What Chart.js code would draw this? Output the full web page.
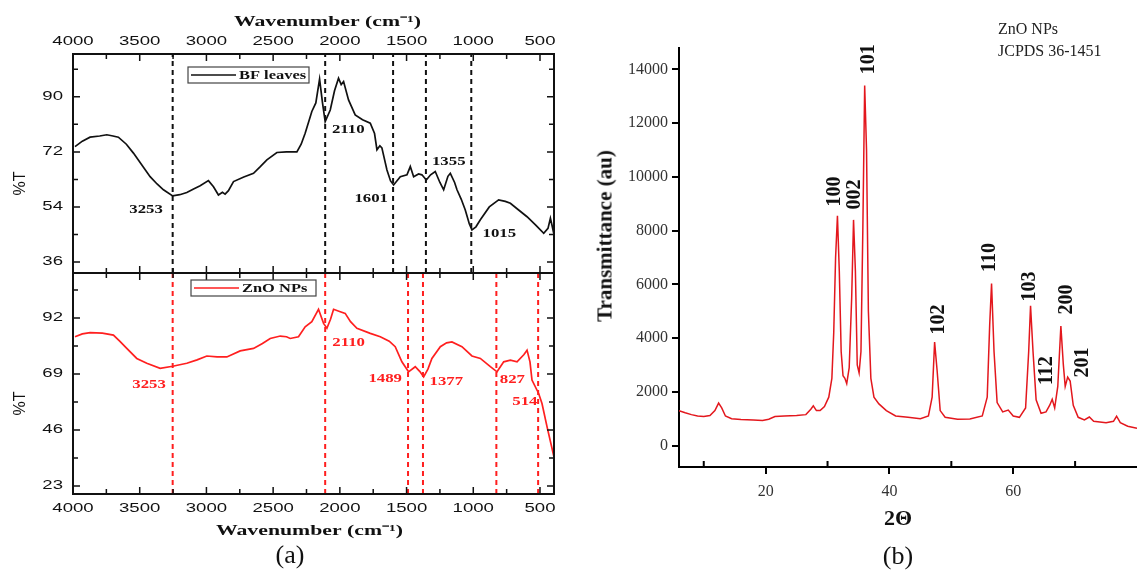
<!DOCTYPE html>
<html>
<head>
<meta charset="utf-8">
<title>FTIR and XRD of ZnO NPs</title>
<script src="https://cdn.jsdelivr.net/npm/chart.js@4.4.1/dist/chart.umd.min.js"></script>
<style>
  html, body { margin: 0; padding: 0; background: #fff; }
  body { width: 1137px; height: 573px; position: relative; overflow: hidden; }
  .box { position: absolute; }
  .cap { position: absolute; font-family: 'Liberation Serif', 'Times New Roman', serif; color: #111; white-space: nowrap; transform: translate(-50%, -50%); }
  .note { position: absolute; font-family: 'Liberation Serif', 'Times New Roman', serif; color: #222; font-size: 16px; white-space: nowrap; }
</style>
</head>
<body>
<div class="box" style="left:0;top:0;width:570px;height:280px"><canvas id="ftir-top"></canvas></div>
<div class="box" style="left:0;top:260px;width:570px;height:313px"><canvas id="ftir-bottom"></canvas></div>
<div class="box" style="left:590px;top:0;width:547px;height:573px"><canvas id="xrd-chart"></canvas></div>

<div class="cap" style="left:290px;top:555px;font-size:26px">(a)</div>
<div class="cap" style="left:898px;top:556px;font-size:26px">(b)</div>
<div class="cap" style="left:898px;top:518px;font-size:22px;font-weight:bold">2Θ</div>
<div class="cap" style="left:605px;top:236px;font-size:21px;font-weight:bold;transform:translate(-50%,-50%) rotate(-90deg)">Transmittance (au)</div>
<div class="note" style="left:998px;top:20px">ZnO NPs</div>
<div class="note" style="left:998px;top:42px">JCPDS 36-1451</div>

<script>
// ---- FTIR data (panel a) ----
const wavenumberBF = [3985, 3930, 3872, 3800, 3747, 3700, 3660, 3600, 3547, 3480, 3422, 3370, 3322, 3253, 3200, 3147, 3100, 3047, 2985, 2947,
  2910, 2880, 2860, 2835, 2797, 2720, 2647, 2600, 2547, 2472, 2400, 2322, 2290, 2260, 2210, 2180, 2152, 2130, 2110, 2072,
  2040, 2010, 1990, 1972, 1935, 1885, 1830, 1772, 1740, 1722, 1700, 1685, 1647, 1620, 1597, 1547, 1497, 1472, 1447, 1410,
  1385, 1352, 1320, 1285, 1250, 1222, 1190, 1172, 1140, 1122, 1090, 1060, 1030, 1010, 980, 947, 880, 810, 760, 722,
  660, 597, 530, 472, 440, 422, 410, 397];
const transBF = [73.7, 75.5, 76.8, 77.2, 77.6, 77.2, 76.8, 74.5, 71.6, 67.5, 63.9, 61.5, 59.6, 57.6, 58.0, 58.7, 59.8, 60.9, 62.6, 60.6,
  57.9, 58.8, 58.2, 59.3, 62.3, 63.8, 65.0, 67.0, 69.4, 71.8, 72.0, 72.0, 74.5, 78.1, 85.2, 88.0, 95.8, 88.0, 81.9, 85.7,
  92.0, 96.1, 94.0, 95.0, 89.0, 84.1, 82.5, 81.4, 78.0, 72.7, 74.0, 73.3, 66.1, 62.5, 61.2, 63.9, 64.5, 67.2, 63.9, 64.8,
  64.5, 62.8, 64.5, 65.6, 62.0, 59.6, 64.0, 65.0, 62.0, 59.6, 56.5, 53.0, 48.5, 46.5, 47.5, 49.8, 54.0, 56.3, 55.8, 55.2,
  53.0, 50.8, 48.0, 45.4, 47.0, 50.3, 48.0, 45.4];

const wavenumberZnO = [3985, 3930, 3872, 3780, 3697, 3650, 3597, 3522, 3447, 3347, 3253, 3147, 3070, 2997, 2920, 2847, 2747, 2647, 2580, 2522,
  2447, 2400, 2372, 2310, 2260, 2210, 2160, 2122, 2097, 2070, 2047, 1997, 1960, 1920, 1872, 1772, 1697, 1630, 1585, 1535,
  1485, 1435, 1400, 1372, 1340, 1310, 1247, 1200, 1160, 1085, 1010, 947, 872, 822, 772, 722, 672, 620, 597, 575,
  560, 510, 485, 447, 395];
const transZnO = [84.3, 85.5, 86.0, 85.8, 85.0, 82.5, 79.5, 75.4, 73.4, 71.3, 72.2, 73.4, 74.8, 76.4, 76.0, 76.0, 78.5, 79.5, 81.5, 83.6,
  84.6, 84.3, 83.6, 84.3, 88.4, 90.5, 95.6, 89.8, 87.8, 91.5, 95.6, 94.6, 93.9, 90.5, 87.8, 85.7, 84.3, 82.5, 80.2, 74.0,
  69.9, 72.0, 70.0, 67.8, 71.0, 75.4, 80.2, 81.8, 82.2, 80.2, 76.4, 75.4, 72.0, 69.9, 74.0, 74.7, 74.0, 77.0, 78.8, 74.0,
  66.5, 61.0, 56.9, 47.3, 34.9];

const bfPeaks = [3253, 2110, 1601, 1355, 1015];
const bfPeakTextX = [3452, 1937, 1765, 1184, 805];
const bfPeakTextY = [53.0, 79.2, 56.6, 68.7, 45.2];
const znoPeaks = [3253, 2110, 1489, 1377, 827, 514];
const znoPeakTextX = [3430, 1934, 1660, 1202, 707, 613];
const znoPeakTextY = [64.7, 81.8, 66.8, 65.8, 66.5, 57.4];

const wnTicks = [4000, 3500, 3000, 2500, 2000, 1500, 1000, 500];
const wnMinorTicks = [3750, 3250, 2750, 2250, 1750, 1250, 750];
const bfTicks = [36, 54, 72, 90];
const bfMinorTicks = [45, 63, 81, 99];
const znoTicks = [23, 46, 69, 92];
const znoMinorTicks = [34.5, 57.5, 80.5, 103.5];

// ---- XRD data (panel b) ----
const twoTheta = [6, 7, 8, 9, 10, 11, 11.8, 12.4, 12.9, 13.5, 14.5, 16, 18, 19.5, 20.5, 21.5, 23, 25, 26.5, 27.3,
  27.7, 28.2, 28.8, 29.5, 30.2, 30.7, 31.0, 31.3, 31.6, 31.9, 32.2, 32.5, 32.8, 33.1, 33.5, 33.9, 34.2, 34.5, 34.8, 35.1,
  35.4, 35.7, 36.0, 36.3, 36.6, 37.0, 37.5, 38.3, 39.5, 41, 43, 45, 46.3, 46.9, 47.3, 47.7, 48.2, 49, 51, 53,
  55, 55.8, 56.2, 56.5, 56.9, 57.4, 58.3, 59.2, 60, 61, 62, 62.5, 62.8, 63.2, 63.7, 64.5, 65.3, 65.9, 66.3, 66.7,
  67.2, 67.7, 68.1, 68.4, 68.8, 69.2, 69.7, 70.5, 71.5, 72.3, 73, 75, 76.2, 76.7, 77.3, 78.5, 80];
const xrdCounts = [1300, 1220, 1150, 1100, 1080, 1120, 1300, 1580, 1400, 1100, 1000, 970, 950, 930, 980, 1080, 1100, 1120, 1150, 1350,
  1480, 1300, 1300, 1450, 1800, 2500, 4200, 7000, 8550, 6500, 3500, 2600, 2500, 2300, 2900, 5500, 8400, 6500, 3000, 2700,
  3500, 8000, 13400, 11000, 5000, 2500, 1800, 1550, 1300, 1100, 1050, 1000, 1100, 1800, 3850, 2800, 1300, 1050, 980, 990,
  1100, 1800, 4500, 6030, 3500, 1600, 1250, 1320, 1100, 1050, 1400, 3500, 5200, 3500, 1700, 1200, 1250, 1500, 1720, 1400,
  2200, 4450, 3000, 2200, 2550, 2400, 1500, 1050, 950, 1060, 900, 850, 900, 1090, 850, 720, 640];

const xrdPeakLabels = ['100', '002', '101', '102', '110', '103', '112', '200', '201'];
const xrdLabelAngle = [31.1, 34.4, 36.6, 48.0, 56.3, 62.7, 65.5, 68.6, 71.3];
const xrdLabelCount = [9460, 9350, 14380, 4690, 7000, 5920, 2790, 5440, 3090];

const xrdYTicks = [0, 2000, 4000, 6000, 8000, 10000, 12000, 14000];
const xrdXTicks = [20, 40, 60];
const xrdXMinorTicks = [10, 30, 50, 70];

// ---- helpers ----
function points(xs, ys) {
  return xs.map((v, i) => ({ x: v, y: ys[i] }));
}

// panel (a) was stretched sideways, so its text is drawn wide too
function stretchText(ctx, text, x, y, align, sx) {
  ctx.save();
  ctx.translate(x, y);
  ctx.scale(sx, 1);
  ctx.textAlign = align;
  ctx.fillText(text, 0, 0);
  ctx.restore();
}

function dropLines(peaks, yMin, yMax, color) {
  return peaks.map(p => ({
    data: [{ x: p, y: yMin }, { x: p, y: yMax }],
    borderColor: color,
    borderWidth: 2,
    borderDash: [5, 4],
    pointRadius: 0
  }));
}

// frame, inward ticks, tick labels, peak numbers and legend box for an FTIR pane
const ftirDecor = {
  id: 'ftirDecor',
  afterDatasetsDraw(chart, args, o) {
    const { ctx, chartArea: a, scales: { x, y } } = chart;
    ctx.save();
    ctx.strokeStyle = '#111';
    ctx.lineWidth = 2;
    ctx.strokeRect(a.left, a.top, a.right - a.left, a.bottom - a.top);

    ctx.lineWidth = 1.5;
    ctx.beginPath();
    const tickX = (v, len) => {
      const px = x.getPixelForValue(v);
      ctx.moveTo(px, a.top); ctx.lineTo(px, a.top + len);
      ctx.moveTo(px, a.bottom); ctx.lineTo(px, a.bottom - len);
    };
    const tickY = (v, len) => {
      const py = y.getPixelForValue(v);
      ctx.moveTo(a.left, py); ctx.lineTo(a.left + len, py);
      ctx.moveTo(a.right, py); ctx.lineTo(a.right - len, py);
    };
    o.xMajor.forEach(v => tickX(v, 7));
    o.xMinor.forEach(v => tickX(v, 5));
    o.yMajor.forEach(v => tickY(v, 7));
    o.yMinor.forEach(v => tickY(v, 5));
    ctx.stroke();

    // tick labels
    ctx.fillStyle = '#111';
    ctx.font = '12px "Liberation Sans", Arial, sans-serif';
    if (o.xSide === 'top') {
      ctx.textBaseline = 'bottom';
      o.xMajor.forEach(v => stretchText(ctx, String(v), x.getPixelForValue(v), a.top - 6, 'center', 1.55));
    } else {
      ctx.textBaseline = 'top';
      o.xMajor.forEach(v => stretchText(ctx, String(v), x.getPixelForValue(v), a.bottom + 9, 'center', 1.55));
    }
    ctx.textBaseline = 'middle';
    o.yMajor.forEach(v => stretchText(ctx, String(v), a.left - 10, y.getPixelForValue(v), 'right', 1.55));

    // axis titles
    const mid = (a.left + a.right) / 2;
    ctx.font = 'bold 15px "Liberation Serif", "Times New Roman", serif';
    stretchText(ctx, 'Wavenumber (cm⁻¹)', mid + o.titleDx, o.xSide === 'top' ? a.top - 32 : a.bottom + 37, 'center', 1.45);
    ctx.save();
    ctx.translate(21, (a.top + a.bottom) / 2 + 20);
    ctx.rotate(-Math.PI / 2);
    ctx.font = '16px "Liberation Sans", Arial, sans-serif';
    ctx.textAlign = 'center';
    ctx.fillText('%T', 0, 0);
    ctx.restore();

    // peak numbers
    ctx.fillStyle = o.color;
    ctx.font = 'bold 12px "Liberation Serif", "Times New Roman", serif';
    o.peaks.forEach((p, i) => {
      stretchText(ctx, String(p), x.getPixelForValue(o.textX[i]), y.getPixelForValue(o.textY[i]), 'center', 1.4);
    });

    // legend box
    const lx = a.left + o.legendDx, ly = a.top + o.legendDy;
    ctx.fillStyle = '#fff';
    ctx.fillRect(lx, ly, o.legendW, 16);
    ctx.strokeStyle = '#444';
    ctx.lineWidth = 1.2;
    ctx.strokeRect(lx, ly, o.legendW, 16);
    ctx.strokeStyle = o.color;
    ctx.lineWidth = 1.6;
    ctx.beginPath();
    ctx.moveTo(lx + 3, ly + 8); ctx.lineTo(lx + 48, ly + 8);
    ctx.stroke();
    ctx.fillStyle = '#111';
    ctx.textBaseline = 'middle';
    stretchText(ctx, o.legend, lx + 51, ly + 8.5, 'left', 1.37);
    ctx.restore();
  }
};

function ftirChart(id, wn, tr, peaks, lineColor, peakColor, yMin, yMax, pad, deco) {
  return new Chart(document.getElementById(id), {
    type: 'line',
    data: {
      datasets: [{
        data: points(wn, tr),
        borderColor: lineColor,
        borderWidth: 1.7,
        pointRadius: 0,
        tension: 0
      }].concat(dropLines(peaks, yMin, yMax, peakColor))
    },
    options: {
      responsive: true,
      maintainAspectRatio: false,
      animation: false,
      layout: { padding: pad },
      scales: {
        x: { type: 'linear', reverse: true, min: 395, max: 4000, display: false },
        y: { type: 'linear', min: yMin, max: yMax, display: false }
      },
      plugins: {
        legend: { display: false },
        tooltip: { enabled: false },
        ftirDecor: deco
      }
    },
    plugins: [ftirDecor]
  });
}

ftirChart('ftir-top', wavenumberBF, transBF, bfPeaks, '#111', '#111', 32.4, 104,
  { left: 73, right: 16, top: 54, bottom: 7 },
  { xSide: 'top', xMajor: wnTicks, xMinor: wnMinorTicks, yMajor: bfTicks, yMinor: bfMinorTicks,
    peaks: bfPeaks, textX: bfPeakTextX, textY: bfPeakTextY, color: '#111',
    legend: 'BF leaves', legendDx: 115, legendDy: 13, legendW: 121, titleDx: 14 });

ftirChart('ftir-bottom', wavenumberZnO, transZnO, znoPeaks, '#ff1f1f', '#ff1f1f', 19.7, 110.5,
  { left: 73, right: 16, top: 13, bottom: 79 },
  { xSide: 'bottom', xMajor: wnTicks, xMinor: wnMinorTicks, yMajor: znoTicks, yMinor: znoMinorTicks,
    peaks: znoPeaks, textX: znoPeakTextX, textY: znoPeakTextY, color: '#ff1f1f',
    legend: 'ZnO NPs', legendDx: 118, legendDy: 7, legendW: 125, titleDx: -4 });

// ---- XRD pattern ----
const xrdDecor = {
  id: 'xrdDecor',
  afterDatasetsDraw(chart) {
    const { ctx, chartArea: a, scales: { x, y } } = chart;
    ctx.save();
    // minor ticks point inward
    ctx.strokeStyle = '#000';
    ctx.lineWidth = 2;
    ctx.beginPath();
    xrdXMinorTicks.forEach(v => {
      const px = x.getPixelForValue(v);
      ctx.moveTo(px, a.bottom); ctx.lineTo(px, a.bottom - 6);
    });
    ctx.stroke();
    // Miller indices, rotated
    ctx.fillStyle = '#111';
    ctx.font = 'bold 20px "Liberation Serif", "Times New Roman", serif';
    ctx.textAlign = 'center';
    ctx.textBaseline = 'middle';
    xrdPeakLabels.forEach((t, i) => {
      ctx.save();
      ctx.translate(x.getPixelForValue(xrdLabelAngle[i]), y.getPixelForValue(xrdLabelCount[i]));
      ctx.rotate(-Math.PI / 2);
      ctx.fillText(t, 0, 0);
      ctx.restore();
    });
    ctx.restore();
  }
};

const axisGrid = { display: true, drawOnChartArea: false, drawTicks: true, tickLength: 7, color: '#000', lineWidth: 2 };
const axisBorder = { display: true, color: '#000', width: 2 };
const serifTicks = { family: 'Liberation Serif', size: 16 };

new Chart(document.getElementById('xrd-chart'), {
  type: 'line',
  data: {
    datasets: [{
      data: points(twoTheta, xrdCounts),
      borderColor: '#e3171d',
      borderWidth: 1.5,
      pointRadius: 0,
      tension: 0
    }]
  },
  options: {
    responsive: true,
    maintainAspectRatio: false,
    animation: false,
    layout: { padding: { left: 29, right: 0, top: 48, bottom: 66 } },
    scales: {
      x: {
        type: 'linear', min: 6, max: 80,
        afterBuildTicks: s => { s.ticks = xrdXTicks.map(v => ({ value: v })); },
        afterFit: s => { s.height = 40; },
        ticks: { font: serifTicks, color: '#333', padding: 8, maxRotation: 0, callback: v => String(v) },
        grid: axisGrid,
        border: axisBorder
      },
      y: {
        type: 'linear', min: -800, max: 14800,
        afterBuildTicks: s => { s.ticks = xrdYTicks.map(v => ({ value: v })); },
        afterFit: s => { s.width = 60; },
        ticks: { font: serifTicks, color: '#333', padding: 4, callback: v => String(v) },
        grid: axisGrid,
        border: axisBorder
      }
    },
    plugins: { legend: { display: false }, tooltip: { enabled: false } }
  },
  plugins: [xrdDecor]
});
</script>
</body>
</html>
